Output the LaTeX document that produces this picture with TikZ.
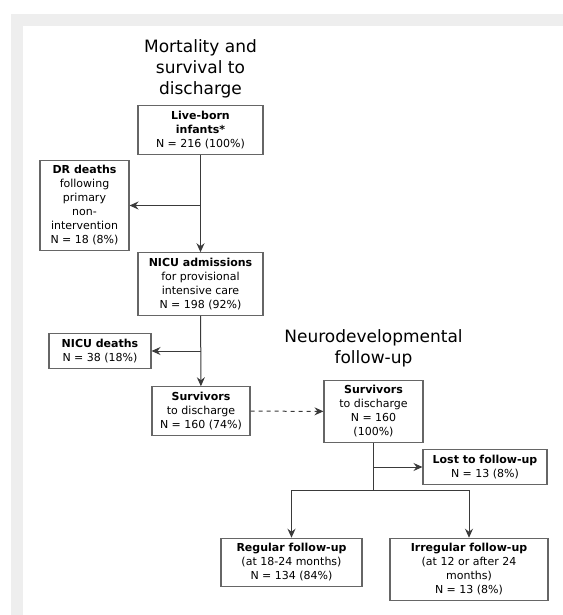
\documentclass[tikz,border=0pt]{standalone}
\usepackage{fontspec}
\setmainfont{DejaVu Sans}
\usepackage{tikz}
\usetikzlibrary{positioning,arrows.meta}
\definecolor{framegray}{HTML}{EEEEEE}
\definecolor{linegray}{HTML}{3A3A3A}

\begin{document}
\begin{tikzpicture}[x=0.75pt, y=-0.75pt, >={Stealth[length=6.75pt,width=6pt,inset=2.25pt]},
  font=\fontsize{8.25}{10.5}\selectfont,
  box/.style={draw=black!60, line width=0.8pt, align=center, inner sep=0pt,
    minimum width={#1*0.75pt}, minimum height=0pt, inner ysep=4pt},
  box/.default=95,
  ttl/.style={align=center, inner sep=0pt, font=\fontsize{12.75}{15.75}\selectfont},
  con/.style={draw=linegray, line width=0.75pt}]
\useasboundingbox (0,0) rectangle (563,615);
\fill[framegray] (11,14) rectangle (563,26);
\fill[framegray] (11,26) rectangle (23,615);
% mortality and survival
\node[ttl] (t1) at (200.5,69) {Mortality and\\survival to\\discharge};
\node[box=125] (live) at (200.5,130) {\textbf{Live-born}\\\textbf{infants*}\\N = 216 (100\%)};
\node[box=89]  (dr)   at (84.5,205.5) {\textbf{DR deaths}\\following\\primary\\non-\\intervention\\N = 18 (8\%)};
\node[box=125] (adm)  at (200.5,284) {\textbf{NICU admissions}\\for provisional\\intensive care\\N = 198 (92\%)};
\node[box=102] (nd)   at (100,351) {\textbf{NICU deaths}\\N = 38 (18\%)};
\node[box=98]  (surv) at (201,411) {\textbf{Survivors}\\to discharge\\N = 160 (74\%)};
% neurodevelopmental follow-up
\node[ttl] (t2) at (373.5,348.5) {Neurodevelopmental\\follow-up};
\node[box=99]  (fu)   at (373.5,411.5) {\textbf{Survivors}\\to discharge\\N = 160\\(100\%)};
\node[box=124] (lost) at (485,467) {\textbf{Lost to follow-up}\\N = 13 (8\%)};
\node[box=141] (reg)  at (291.5,562.5) {\textbf{Regular follow-up}\\(at 18-24 months)\\N = 134 (84\%)};
\node[box=158] (irr)  at (469,569.5) {\textbf{Irregular follow-up}\\(at 12 or after 24\\months)\\N = 13 (8\%)};
\coordinate (split) at (373.5,490);
\draw[con,->] (live) -- (adm);
\draw[con,->] (live.south |- dr.east) -- (dr.east);
\draw[con,->] (adm) -- (surv);
\draw[con,->] (adm.south |- nd.east) -- (nd.east);
\draw[con,->,dashed] (surv) -- (fu);
\draw[con] (fu) -- (split);
\draw[con,->] (fu.south |- lost.west) -- (lost.west);
\foreach \b in {reg,irr} {\draw[con,->] (split) -| (\b.north);}
\end{tikzpicture}
\end{document}
